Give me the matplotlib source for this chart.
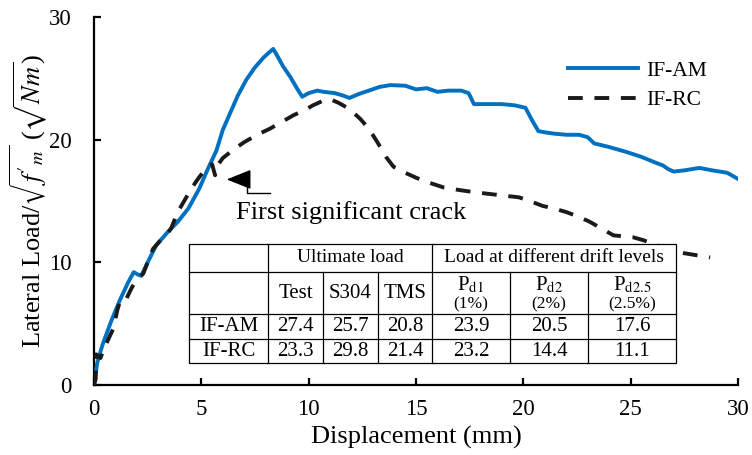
import numpy as np
import matplotlib
matplotlib.use("Agg")
import matplotlib.pyplot as plt
from matplotlib.patches import Rectangle

plt.rcParams['font.family'] = ['Liberation Serif', 'DejaVu Serif']
plt.rcParams['mathtext.fontset'] = 'stix'

# Load-displacement curves (load normalised by sqrt(f'm))
am_disp = [0, 0.15, 0.4, 0.8, 1.2, 1.6, 1.85, 2.05, 2.2, 2.5, 2.9, 3.4, 3.9, 4.4, 4.9,
           5.3, 5.7, 6.0, 6.4, 6.7, 7.1, 7.5, 7.9, 8.15, 8.35, 8.55, 8.8, 9.15, 9.45,
           9.7, 10.0, 10.4, 10.7, 11.2, 11.6, 11.9, 12.3, 12.8, 13.3, 13.8, 14.5, 15.0,
           15.5, 16.0, 16.5, 17.1, 17.45, 17.7, 18.3, 19.0, 19.6, 20.1, 20.4, 20.7,
           21.0, 21.4, 22.0, 22.6, 23.0, 23.3, 24.0, 24.8, 25.5, 26.2, 26.5, 26.75,
           27.0, 27.5, 28.2, 28.8, 29.5, 29.8, 30.0]
am_load = [0, 1.8, 3.3, 5.2, 6.9, 8.4, 9.2, 9.0, 8.9, 10.0, 11.4, 12.4, 13.3, 14.4, 16.0,
           17.6, 19.1, 20.8, 22.4, 23.6, 24.9, 25.9, 26.7, 27.1, 27.4, 26.8, 26.0, 25.1,
           24.2, 23.5, 23.8, 24.0, 23.9, 23.8, 23.6, 23.4, 23.7, 24.0, 24.3, 24.45, 24.4,
           24.1, 24.2, 23.9, 24.0, 24.0, 23.8, 22.9, 22.9, 22.9, 22.8, 22.6, 21.6, 20.7,
           20.6, 20.5, 20.4, 20.4, 20.2, 19.7, 19.4, 19.0, 18.6, 18.1, 17.9, 17.6,
           17.4, 17.5, 17.7, 17.5, 17.3, 17.0, 16.8]

rc_disp = [0, 0.08, 0.1, 0.3, 0.5, 0.9, 1.1, 1.25, 1.5, 1.75, 1.95, 2.3, 2.5, 2.75, 3.05,
           3.4, 3.6, 3.9, 4.2, 4.5, 4.8, 5.1, 5.4, 5.5, 5.64, 5.75, 6.0, 6.5, 7.0, 7.6,
           8.2, 8.8, 9.3, 9.8, 10.2, 10.7, 11.0, 11.4, 11.9, 12.4, 12.8, 13.2, 13.6,
           13.95, 14.5, 15.0, 15.6, 16.3, 17.0, 17.8, 18.8, 19.8, 20.45, 20.9, 21.4,
           22.0, 22.6, 23.1, 23.6, 24.2, 25.1, 25.6, 26.2, 26.75, 27.3, 28.0, 28.7]
rc_load = [0, 0.5, 2.5, 2.2, 3.1, 4.6, 6.2, 7.0, 7.0, 7.9, 8.5, 9.1, 10.0, 11.1, 11.7,
           12.3, 12.8, 14.1, 15.0, 15.9, 16.7, 17.4, 17.9, 18.0, 17.1, 17.9, 18.5, 19.2,
           19.8, 20.4, 20.9, 21.5, 22.0, 22.4, 22.8, 23.2, 23.3, 23.0, 22.5, 21.7, 20.9,
           19.8, 18.6, 17.8, 17.3, 16.9, 16.5, 16.1, 15.9, 15.7, 15.5, 15.3, 14.9, 14.6,
           14.4, 14.1, 13.7, 13.3, 12.8, 12.2, 12.05, 11.8, 11.4, 11.1, 10.8, 10.6, 10.4]

# table contents
specimens = ['IF-AM', 'IF-RC']
ult_cols = ['Test', 'S304', 'TMS']
drift_cols = [r'P$_{\mathrm{d1}}$', r'P$_{\mathrm{d2}}$', r'P$_{\mathrm{d2.5}}$']
drift_pct = ['(1%)', '(2%)', '(2.5%)']
ult_test = [27.4, 23.3]
ult_s304 = [25.7, 29.8]
ult_tms = [20.8, 21.4]
p_d1 = [23.9, 23.2]
p_d2 = [20.5, 14.4]
p_d25 = [17.6, 11.1]

fig = plt.figure(figsize=(7.52, 4.55), dpi=100)
ax = fig.add_axes([0.125, 0.1538, 0.8564, 0.8088])

ax.plot(am_disp, am_load, color='#0070C0', lw=2.8, label='IF-AM', zorder=3)
ax.plot(rc_disp, rc_load, color='#1a1a1a', lw=2.8, dashes=(3.8, 3.0),
        label='IF-RC', zorder=4)

ax.set_xlim(0, 30)
ax.set_ylim(0, 30)
ax.set_xticks([0, 5, 10, 15, 20, 25, 30])
ax.set_yticks([0, 10, 20, 30])
for s in ['top', 'right']:
    ax.spines[s].set_visible(False)
for s in ['left', 'bottom']:
    ax.spines[s].set_linewidth(1.6)
ax.tick_params(direction='in', length=5, width=1.6, labelsize=16.5)
ax.tick_params(axis='x', pad=10)
ax.tick_params(axis='y', pad=16)

ax.set_xlabel('Displacement (mm)', fontsize=19)
ax.set_ylabel(r"Lateral Load/$\sqrt{f'_m}$ ($\sqrt{Nm}$)", fontsize=19)
ax.xaxis.set_label_coords(0.5, -0.11)
ax.yaxis.set_label_coords(-0.068, 0.5)

ax.legend(loc='center left', bbox_to_anchor=(0.736, 0.814), frameon=False,
          fontsize=15.5, handlelength=3.25, handletextpad=0.37, labelspacing=0.45,
          borderpad=0, borderaxespad=0)

# first crack marker
ax.annotate('', xy=(6.05, 16.76), xytext=(7.11, 16.76),
            arrowprops=dict(arrowstyle='-|>,head_length=0.85,head_width=0.34',
                            color='black', lw=1, mutation_scale=18))
ax.plot([7.11, 7.11, 8.2], [16.76, 15.66, 15.66], color='black', lw=1)
ax.text(6.61, 14.1, 'First significant crack', fontsize=19, va='center', ha='left')

# summary table (axes fraction coords)
col_x = [0.1475, 0.2702, 0.3556, 0.4410, 0.5248, 0.6460, 0.7671, 0.9037]
row_y = [0.3845, 0.3071, 0.1929, 0.1250, 0.0598]
tr = ax.transAxes
lk = dict(color='black', lw=0.9, transform=tr, zorder=11, clip_on=False)
ax.add_patch(Rectangle((col_x[0], row_y[-1]), col_x[-1] - col_x[0], row_y[0] - row_y[-1],
                       transform=tr, facecolor='white', edgecolor='black', lw=0.9,
                       zorder=10))
for yy in row_y[1:-1]:
    ax.plot([col_x[0], col_x[-1]], [yy, yy], **lk)
for i, xx in enumerate(col_x[1:-1], start=1):
    if i in (1, 4):
        ax.plot([xx, xx], [row_y[0], row_y[-1]], **lk)
    else:
        ax.plot([xx, xx], [row_y[1], row_y[-1]], **lk)

tk = dict(transform=tr, ha='center', va='center', zorder=12)
fs = 15
r1 = (row_y[0] + row_y[1]) / 2
ax.text((col_x[1] + col_x[4]) / 2, r1, 'Ultimate load', fontsize=14, **tk)
ax.text((col_x[4] + col_x[7]) / 2, r1, 'Load at different drift levels', fontsize=14, **tk)

r2 = (row_y[1] + row_y[2]) / 2
for j, name in enumerate(ult_cols):
    ax.text((col_x[1 + j] + col_x[2 + j]) / 2, r2, name, fontsize=fs, **tk)
for j, (name, pct) in enumerate(zip(drift_cols, drift_pct)):
    cx = (col_x[4 + j] + col_x[5 + j]) / 2
    ax.text(cx, r2 + 0.022, name, fontsize=fs, **tk)
    ax.text(cx, r2 - 0.032, pct, fontsize=12.5, **tk)

cols = [ult_test, ult_s304, ult_tms, p_d1, p_d2, p_d25]
for i, spec in enumerate(specimens):
    ry = (row_y[2 + i] + row_y[3 + i]) / 2
    ax.text((col_x[0] + col_x[1]) / 2, ry, spec, fontsize=fs, **tk)
    for j, vals in enumerate(cols):
        ax.text((col_x[1 + j] + col_x[2 + j]) / 2, ry, f'{vals[i]:.1f}', fontsize=fs, **tk)

fig.savefig('out.png', dpi=100)
